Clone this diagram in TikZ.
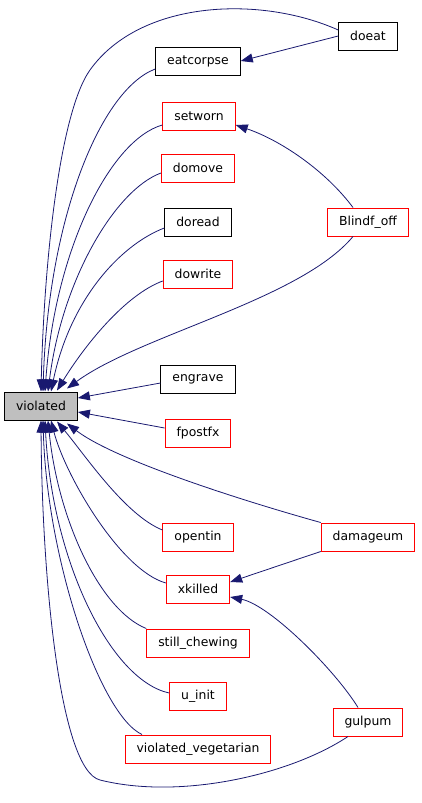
\documentclass[tikz,border=0pt]{standalone}
\usepackage{fontspec}
\setmainfont{DejaVu Sans}
\usetikzlibrary{arrows.meta}
\definecolor{edgeblue}{HTML}{191970}
\definecolor{boxred}{HTML}{FF0000}
\definecolor{boxgray}{HTML}{BFBFBF}

\begin{document}
\begin{tikzpicture}[x=1pt, y=-1pt,
    fn/.style={draw=boxred, fill=white, line width=1pt, font=\fontsize{12.4}{14}\selectfont,
        minimum height=28pt, inner xsep=11.5pt, inner ysep=0pt},
    fndoc/.style={fn, draw=black},
    fnroot/.style={fn, draw=black, fill=boxgray},
    call/.style={draw=edgeblue, line width=0.8pt, -{Triangle[length=12pt, width=9pt]}},
]
    \useasboundingbox (0,0) rectangle (421,803);

    % the called function
    \node[fnroot] (vio) at (41,406) {violated};

    % callers
    \node[fndoc] (doeat) at (368,36) {doeat};
    \node[fndoc] (eatcorpse) at (198,61) {eatcorpse};
    \node[fn] (setworn) at (199,116) {setworn};
    \node[fn] (domove) at (198,168) {domove};
    \node[fndoc] (doread) at (198,222) {doread};
    \node[fn] (dowrite) at (198,274) {dowrite};
    \node[fn] (blindf) at (368,222) {Blindf\_off};
    \node[fndoc] (engrave) at (198,379) {engrave};
    \node[fn] (fpostfx) at (198,433) {fpostfx};
    \node[fn] (opentin) at (198,537) {opentin};
    \node[fn] (damageum) at (368,537) {damageum};
    \node[fn] (xkilled) at (198,589) {xkilled};
    \node[fn] (chewing) at (198,643) {still\_chewing};
    \node[fn] (uinit) at (198,696) {u\_init};
    \node[fn] (vegetarian) at (198,749) {violated\_vegetarian};
    \node[fn] (gulpum) at (368,722) {gulpum};

    % edges from above
    \draw[call] ([yshift=6pt]doeat.west) .. controls (260,-5) and (140,0) .. (90,70)
        .. controls (60,112) and (44,260) .. ([xshift=0pt]vio.north);
    \draw[call] ([yshift=-8pt]eatcorpse.west) .. controls (100,90) and (48,220) .. ([xshift=2pt]vio.north);
    \draw[call] ([yshift=-9pt]setworn.west) .. controls (110,140) and (55,250) .. ([xshift=4pt]vio.north);
    \draw[call] ([yshift=-5pt]domove.west) .. controls (115,190) and (62,280) .. ([xshift=7pt]vio.north);
    \draw[call] ([yshift=-6pt]doread.west) .. controls (120,245) and (70,300) .. ([xshift=10pt]vio.north);
    \draw[call] ([yshift=-7pt]dowrite.west) .. controls (125,295) and (85,345) .. ([xshift=16pt,yshift=1pt]vio.north);
    \draw[call] ([xshift=-15pt]blindf.south) .. controls (300,300) and (140,335) .. ([xshift=26pt,yshift=3pt]vio.north);

    % second level, top
    \draw[call] (doeat.west) -- (eatcorpse.east);
    \draw[call] ([xshift=-15pt]blindf.north) .. controls (325,170) and (280,140) .. ([yshift=-9pt]setworn.east);

    % straight ones
    \draw[call] ([yshift=-4pt]engrave.west) -- ([yshift=8pt]vio.east);
    \draw[call] ([yshift=5pt]fpostfx.west) -- ([yshift=-6pt]vio.east);

    % edges from below
    \draw[call] (damageum.north west) .. controls (240,500) and (115,460) .. ([xshift=26pt,yshift=-3pt]vio.south);
    \draw[call] ([yshift=7pt]opentin.west) .. controls (125,515) and (85,455) .. ([xshift=16pt,yshift=-1pt]vio.south);
    \draw[call] ([yshift=6pt]xkilled.west) .. controls (120,570) and (65,475) .. ([xshift=10pt]vio.south);
    \draw[call] (chewing.north west) .. controls (100,610) and (58,520) .. ([xshift=7pt]vio.south);
    \draw[call] ([yshift=3pt]uinit.west) .. controls (110,680) and (52,560) .. ([xshift=4pt]vio.south);
    \draw[call] ([xshift=-56pt]vegetarian.north) .. controls (100,715) and (47,560) .. ([xshift=2pt]vio.south);
    \draw[call] ([xshift=-20pt]gulpum.south) .. controls (290,775) and (180,800) .. (100,780)
        .. controls (60,770) and (42,580) .. ([xshift=0pt]vio.south);

    % second level, bottom
    \draw[call] (damageum.south west) -- ([yshift=7pt]xkilled.east);
    \draw[call] ([xshift=-10pt]gulpum.north) .. controls (335,670) and (270,605) .. ([yshift=-8pt]xkilled.east);
\end{tikzpicture}
\end{document}
